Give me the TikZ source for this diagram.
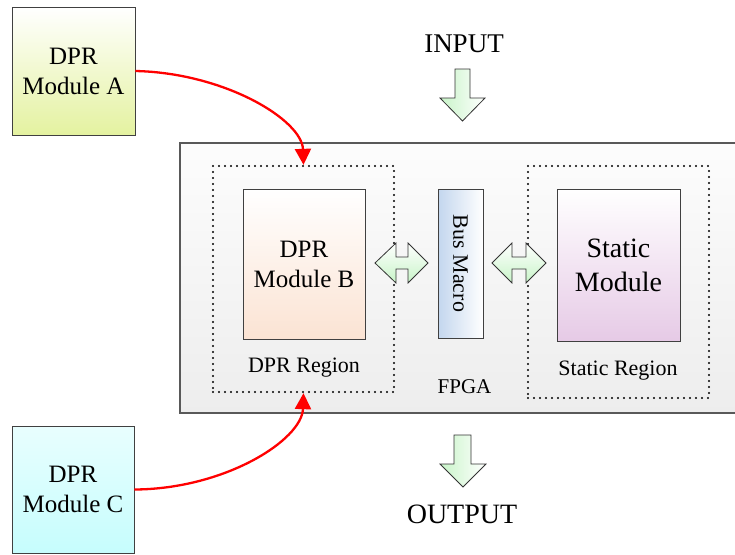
\documentclass[tikz,border=0pt]{standalone}
\usepackage{fontspec}
\setmainfont{Liberation Serif}
\usetikzlibrary{arrows.meta}

\definecolor{modAyel}{HTML}{E4F2A0}
\definecolor{modCcyan}{HTML}{C6FDFD}
\definecolor{modBpeach}{HTML}{FBE3D3}
\definecolor{statpink}{HTML}{E6CAE6}
\definecolor{busblue}{HTML}{C3D6EE}
\definecolor{arrgreen}{HTML}{C8F4C8}

\newcommand{\modfont}{\fontsize{25}{30}\selectfont}
\newcommand{\statfont}{\fontsize{28}{34}\selectfont}
\newcommand{\regfont}{\fontsize{22}{26}\selectfont}

\tikzset{
  modbox/.style={draw=black!75, line width=0.9pt, align=center, inner sep=0pt},
  regbox/.style={draw=black, line width=2.3pt, dash pattern=on 0pt off 6pt, line cap=round, inner sep=0pt},
  greenarr/.style={draw=black!80, line width=0.8pt},
  loadarr/.style={red, line width=2.3pt, -{Triangle[length=16pt,width=16pt]}},
  lbl/.style={anchor=base, inner sep=0pt},
}

\begin{document}
\begin{tikzpicture}[x=1pt,y=-1pt]
    \useasboundingbox (0,0) rectangle (735,554);

    % FPGA
    \node[draw=black!65, line width=1.2pt, top color=black!1, bottom color=black!7,
          minimum width=570pt, minimum height=270pt, inner sep=0pt] (fpga) at (465,278) {};
    \node[lbl, font=\fontsize{21}{25}\selectfont] (fpgalbl) at (464.5,393) {FPGA};

    % Regions
    \node[regbox, minimum width=181pt, minimum height=226pt] (dprreg) at (303.5,279) {};
    \node[regbox, minimum width=181pt, minimum height=232pt] (statreg) at (618.5,282) {};
    \node[lbl, font=\regfont] (dprlbl) at (304,372) {DPR Region};
    \node[lbl, font=\regfont] (statlbl) at (618,375) {Static Region};

    % Modules inside the FPGA
    \node[modbox, top color=white, bottom color=modBpeach, font=\modfont,
          minimum width=122pt, minimum height=150pt] (modB) at (304,264) {DPR\\Module B};
    \node[modbox, top color=white, bottom color=statpink, font=\statfont,
          minimum width=123pt, minimum height=152pt] (statmod) at (618.5,265) {Static\\Module};
    \node[modbox, left color=busblue, right color=white,
          minimum width=45pt, minimum height=149pt] (bus) at (460.5,263.5) {};
    \node[rotate=-90, font=\regfont] (buslbl) at (bus.center) {Bus Macro};

    % Bus arrows
    \draw[greenarr, top color=white, bottom color=arrgreen]
        (375,263) -- (396,243) -- (396,257) -- (408,257) -- (408,243) -- (428,263)
        -- (408,283) -- (408,269) -- (396,269) -- (396,283) -- cycle;
    \draw[greenarr, top color=white, bottom color=arrgreen]
        (492,263) -- (512,243) -- (512,257) -- (526,257) -- (526,243) -- (546,263)
        -- (526,283) -- (526,269) -- (512,269) -- (512,283) -- cycle;

    % Input / output
    \node[lbl, font=\fontsize{27}{32}\selectfont] (inlbl) at (464,52) {INPUT};
    \draw[greenarr, left color=arrgreen, right color=white]
        (455,69) -- (470,69) -- (470,98) -- (485,98) -- (462.5,121) -- (440,98) -- (455,98) -- cycle;
    \draw[greenarr, left color=arrgreen, right color=white]
        (454,435) -- (471,435) -- (471,464) -- (486,464) -- (463,487) -- (440,464) -- (454,464) -- cycle;
    \node[lbl, font=\fontsize{28}{33}\selectfont] (outlbl) at (462,523) {OUTPUT};

    % Modules to load
    \node[modbox, top color=white, bottom color=modAyel, font=\modfont,
          minimum width=123pt, minimum height=128pt] (modA) at (73.5,71) {DPR\\Module A};
    \node[modbox, top color=modCcyan!40, bottom color=modCcyan, font=\modfont,
          minimum width=122pt, minimum height=127pt] (modC) at (73,489.5) {DPR\\Module C};

    \draw[loadarr] (modA.east) .. controls (225,73) and (302,120) .. (dprreg.north);
    \draw[loadarr] (modC.east) .. controls (225,489) and (302,440) .. (dprreg.south);
\end{tikzpicture}
\end{document}
